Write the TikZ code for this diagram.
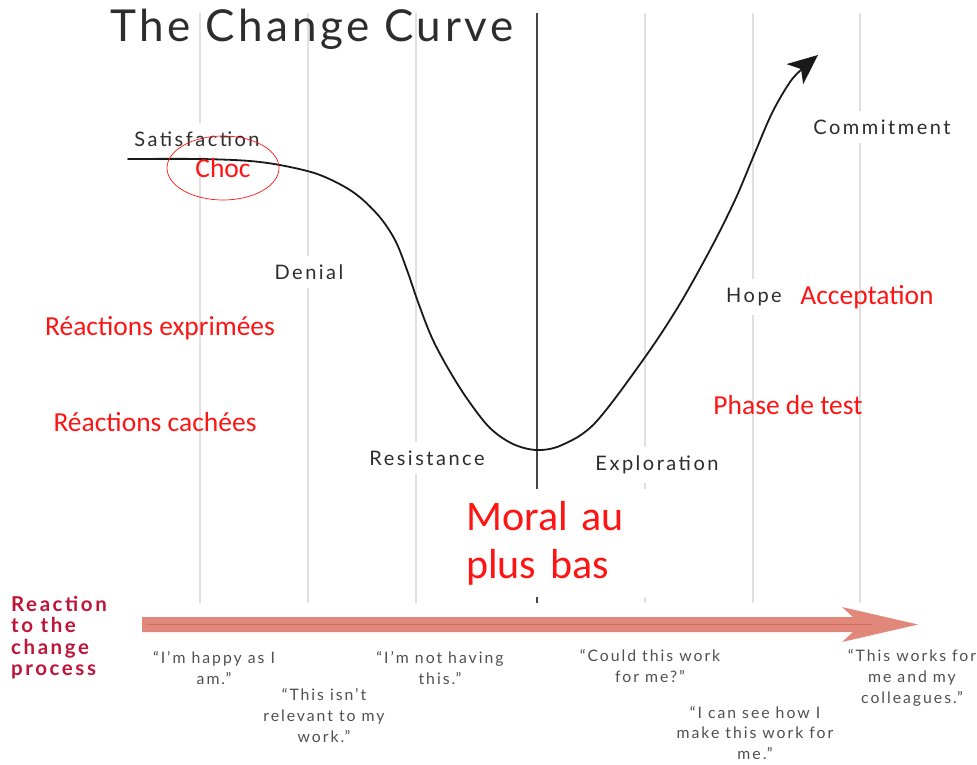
\documentclass[tikz,border=0pt]{standalone}
\usepackage{fontspec}
\setmainfont{Lato}
\newfontfamily\titlefont[LetterSpace=8]{Lato}
\newfontfamily\dinfont[LetterSpace=12.5]{Lato}
\newfontfamily\calfont{Carlito}
\usetikzlibrary{arrows.meta,shapes.geometric}

\definecolor{gridgray}{RGB}{224,224,224}
\definecolor{axisgray}{RGB}{70,70,70}
\definecolor{curveblack}{RGB}{25,25,25}
\definecolor{labelgray}{RGB}{45,45,45}
\definecolor{quotegray}{RGB}{80,80,80}
\definecolor{notered}{RGB}{255,20,20}
\definecolor{crimson}{RGB}{190,20,55}
\definecolor{salmon}{RGB}{225,136,122}
\definecolor{salmondark}{RGB}{212,108,96}

\begin{document}
\begin{tikzpicture}[x=1pt,y=-1pt,
  gridline/.style={draw=gridgray,line width=1.6pt},
  axisline/.style={draw=axisgray,line width=1.5pt},
  heading/.style={text=labelgray,font=\titlefont\fontsize{44}{44}\selectfont,inner sep=0pt},
  stage/.style={text=labelgray,fill=white,inner xsep=4pt,inner ysep=9pt,
    font=\dinfont\fontsize{20}{20}\selectfont},
  note/.style={text=notered,inner sep=0pt,font=\calfont\fontsize{27.5}{27.5}\selectfont},
  bignote/.style={text=notered,font=\calfont\fontsize{42}{48}\selectfont},
  quote/.style={text=quotegray,align=center,inner sep=0pt,
    font=\dinfont\fontsize{15.8}{21}\selectfont},
  sidehead/.style={text=crimson,align=left,inner sep=0pt,
    font=\dinfont\bfseries\fontsize{20.5}{21.5}\selectfont},
  curve/.style={draw=curveblack,line width=1.8pt,line cap=round,
    -{Stealth[length=30pt,width=26pt,inset=8pt]}},
]
\useasboundingbox (0,0) rectangle (977,764);

% phase grid
\foreach \gx in {200,308,416,645,753,860}
  \draw[gridline] (\gx,13) -- (\gx,603);
\draw[axisline] (537,13) -- (537,603);

% title
\node[heading] (title) at (312,29) {The Change Curve};

% stage labels on white patches
\node[stage] (satisfaction) at (197,139) {Satisfaction};
\node[stage] (denial) at (309,272) {Denial};
\node[stage] (resistance) at (427,458) {Resistance};
\node[stage] (exploration) at (657,465) {Exploration};
\node[stage] (hope) at (754,297) {Hope};
\node[stage] (commitment) at (882,127) {Commitment};

% lowest morale, on a white patch that interrupts the grid
\node[bignote,fill=white,anchor=north west,text width=178pt,align=left,
  minimum height=108pt,inner xsep=8pt,inner ysep=0pt] (moral) at (458,489)
  {Moral au\\plus bas};

% the change curve
\draw[curve] plot[smooth,tension=0.55] coordinates {
  (128,159) (200,159) (250,161) (285,166) (320,175) (353,192) (378,215)
  (395,240) (407,270) (418,302) (432,338) (449,370) (468,400) (490,428)
  (513,444) (537,450) (562,445) (595,423) (643,360) (678,307) (710,250)
  (735,200) (754,155) (772,113) (790,82) (803,68) (818,55)};

% French annotations
\node[note,draw=notered,line width=0.7pt,ellipse,minimum width=112pt,
  minimum height=64pt] (choc) at (223,168) {Choc};
\node[note] (acceptation) at (867,297) {Acceptation};
\node[note] (exprimees) at (160,328) {Réactions exprimées};
\node[note] (cachees) at (155,422) {Réactions cachées};
\node[note] (test) at (788,405) {Phase de test};

% timeline arrow
\fill[salmon] (142,617) -- (853,617) -- (842,607) -- (918,624.5)
  -- (842,642) -- (853,632) -- (142,632) -- cycle;
\draw[salmondark,line width=0.6pt] (147,624.5) -- (873,624.5);

\node[sidehead,anchor=north west] (reaction) at (11,596)
  {Reaction\\to the\\change\\process};

% what people say at each stage
\node[quote] (q1) at (214,668) {“I’m happy as I\\am.”};
\node[quote] (q2) at (324,716) {“This isn’t\\relevant to my\\work.”};
\node[quote] (q3) at (440,668) {“I’m not having\\this.”};
\node[quote] (q4) at (650,666) {“Could this work\\for me?”};
\node[quote,font=\dinfont\fontsize{15.8}{20.5}\selectfont] (q5) at (755,733)
  {“I can see how I\\make this work for\\me.”};
\node[quote] (q6) at (912,678) {“This works for\\me and my\\colleagues.”};
\end{tikzpicture}
\end{document}
